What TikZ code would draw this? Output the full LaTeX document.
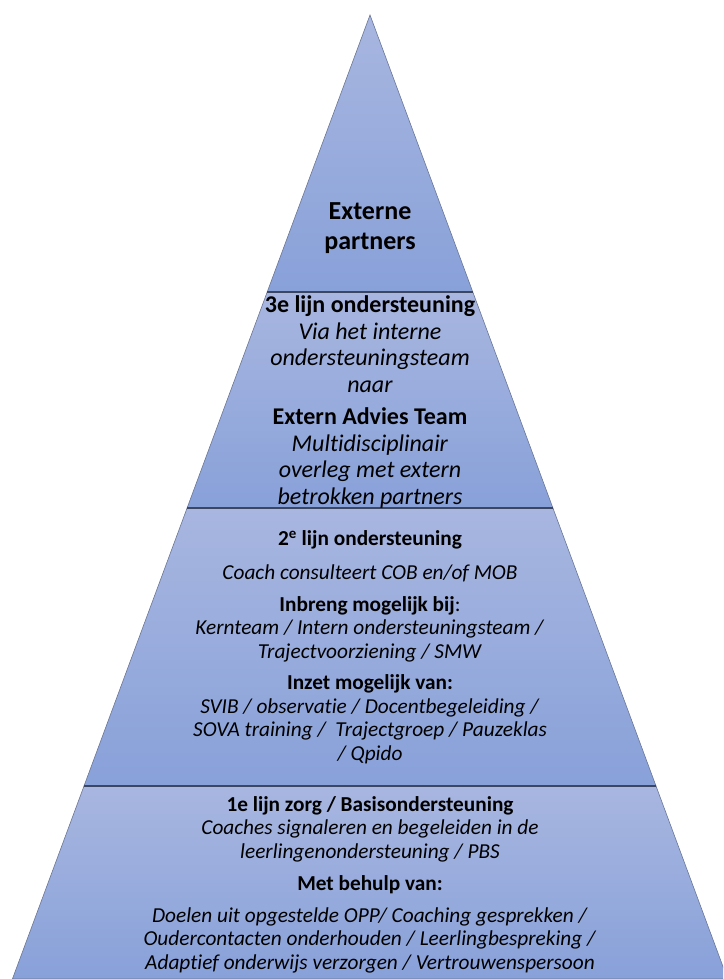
\documentclass[tikz,border=0pt]{standalone}
\usepackage{fontspec}
\setmainfont{Carlito}[Ligatures=NoCommon]
\definecolor{tiertop}{RGB}{168,182,224}
\definecolor{tierbot}{RGB}{136,161,217}
\definecolor{rimline}{RGB}{105,118,150}
\definecolor{sepline}{RGB}{58,70,98}

\tikzset{
  tier/.style={top color=tiertop, bottom color=tierbot, draw=rimline, line width=0.6pt},
  sepl/.style={draw=sepline, line width=1.1pt},
  toptxt/.style={align=center, inner sep=0pt, font=\fontsize{26}{30}\selectfont\bfseries},
  bigtxt/.style={align=center, inner sep=0pt, font=\fontsize{24}{26.5}\selectfont},
  txt/.style={align=center, inner sep=0pt, font=\fontsize{21.3}{23.5}\selectfont}
}

\begin{document}
\begin{tikzpicture}[x=1pt,y=-1pt]
			\clip (0,0) rectangle (723,979);
			% corners of the tiers
			\coordinate (apex) at (370,15);
			\coordinate (l1) at (267.2,292);
			\coordinate (r1) at (472.8,292);
			\coordinate (l2) at (187.1,508);
			\coordinate (r2) at (552.9,508);
			\coordinate (l3) at (84,786);
			\coordinate (r3) at (656,786);
			\coordinate (l4) at (12.4,979);
			\coordinate (r4) at (727.6,979);
			\shadedraw[tier] (apex) -- (r1) -- (l1) -- cycle;
			\shadedraw[tier] (l1) -- (r1) -- (r2) -- (l2) -- cycle;
			\shadedraw[tier] (l2) -- (r2) -- (r3) -- (l3) -- cycle;
			\shadedraw[tier] (l3) -- (r3) -- (r4) -- (l4) -- cycle;
			\draw[sepl] (l1) -- (r1) (l2) -- (r2) (l3) -- (r3);
			% tier 1
			\node[toptxt] (ext) at (370,228) {Externe\\partners};
			% tier 2
			\node[bigtxt] (lijn3) at (370,344) {\textbf{3e lijn ondersteuning}\\\textit{Via het interne}\\\textit{ondersteuningsteam}\\\textit{naar}};
			\node[bigtxt] (eat) at (370,458) {\textbf{Extern Advies Team}\\\textit{Multidisciplinair}\\\textit{overleg met extern}\\\textit{betrokken partners}};
			% tier 3
			\node[txt] (lijn2) at (370,540) {\textbf{2\textsuperscript{e} lijn ondersteuning}};
			\node[txt] (cob) at (370,573) {\textit{Coach consulteert COB en/of MOB}};
			\node[txt] (inbreng) at (370,629) {\textbf{Inbreng mogelijk bij}:\\\textit{Kernteam / Intern ondersteuningsteam /}\\\textit{Trajectvoorziening / SMW}};
			\node[txt] (inzet) at (370,719) {\textbf{Inzet mogelijk van:}\\\textit{SVIB / observatie / Docentbegeleiding /}\\\textit{SOVA training /\ \ Trajectgroep / Pauzeklas}\\\textit{/ Qpido}};
			% tier 4
			\node[txt] (lijn1) at (370,829) {\textbf{1e lijn zorg / Basisondersteuning}\\\textit{Coaches signaleren en begeleiden in de}\\\textit{leerlingenondersteuning / PBS}};
			\node[txt] (behulp) at (370,885) {\textbf{Met behulp van:}};
			\node[txt] (doelen) at (370,940) {\textit{Doelen uit opgestelde OPP/ Coaching gesprekken /}\\\textit{Oudercontacten onderhouden / Leerlingbespreking /}\\\textit{Adaptief onderwijs verzorgen / Vertrouwenspersoon}};
\end{tikzpicture}
\end{document}
